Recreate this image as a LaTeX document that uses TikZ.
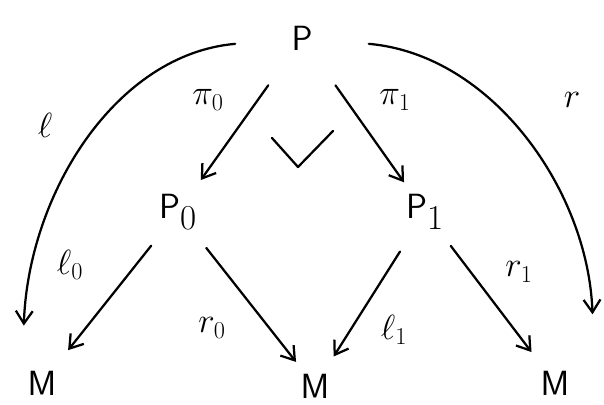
\documentclass[tikz,border=0pt]{standalone}
\usepackage{amsmath, amssymb}
\usepackage{tikz}
\usetikzlibrary{arrows.meta}

\tikzset{
  obj/.style={inner sep=2pt, font=\fontsize{36}{40}\selectfont},
  lab/.style={inner sep=1pt, font=\fontsize{25}{28}\selectfont},
  arr/.style={-{Straight Barb[length=9pt,width=12pt]}, line width=1.6pt, line cap=round},
}

\begin{document}
\begin{tikzpicture}[x=0.025cm, y=-0.025cm]
  \useasboundingbox (0,0) rectangle (604,405);
  % objects
  \node[obj] (P)  at (302,38)  {$\mathsf{P}$};
  \node[obj] (P0) at (178,212) {$\mathsf{P}_0$};
  \node[obj] (P1) at (425,212) {$\mathsf{P}_1$};
  \node[obj] (Ml) at (42,383)  {$\mathsf{M}$};
  \node[obj] (Mm) at (315,386) {$\mathsf{M}$};
  \node[obj] (Mr) at (555,383) {$\mathsf{M}$};
  % projections
  \draw[arr, shorten <=28pt, shorten >=10pt] (P) -- (P0);
  \draw[arr, shorten <=28pt, shorten >=8pt] (P) -- (P1);
  \draw[arr, shorten <=12pt, shorten >=16pt] (P0) -- (Ml);
  \draw[arr, shorten <=14pt, shorten >=8pt] (P0) -- (Mm);
  \draw[arr, shorten <=16pt, shorten >=12pt] (P1) -- (Mm);
  \draw[arr, shorten <=12pt, shorten >=14pt] (P1) -- (Mr);
  % outer arcs
  \draw[arr, shorten <=38pt, shorten >=30pt] (P) to[out=185, in=88, looseness=1.05] ([xshift=-14]Ml.north);
  \draw[arr, shorten <=38pt, shorten >=38pt] (P) to[out=-5, in=92, looseness=1.05] ([xshift=28]Mr.north);
  % pullback mark
  \draw[line width=1.6pt, line join=round, line cap=round] (272,138) -- (298,167) -- (333,131);
  % labels
  \node[lab] (lpi0) at (208,100) {$\pi_0$};
  \node[lab] (lpi1) at (395,100) {$\pi_1$};
  \node[lab] (ll)   at (45,125)  {$\ell$};
  \node[lab] (lr)   at (572,100) {$r$};
  \node[lab] (ll0)  at (70,265)  {$\ell_0$};
  \node[lab] (lr0)  at (212,328) {$r_0$};
  \node[lab] (ll1)  at (394,330) {$\ell_1$};
  \node[lab] (lr1)  at (519,272) {$r_1$};
\end{tikzpicture}
\end{document}
